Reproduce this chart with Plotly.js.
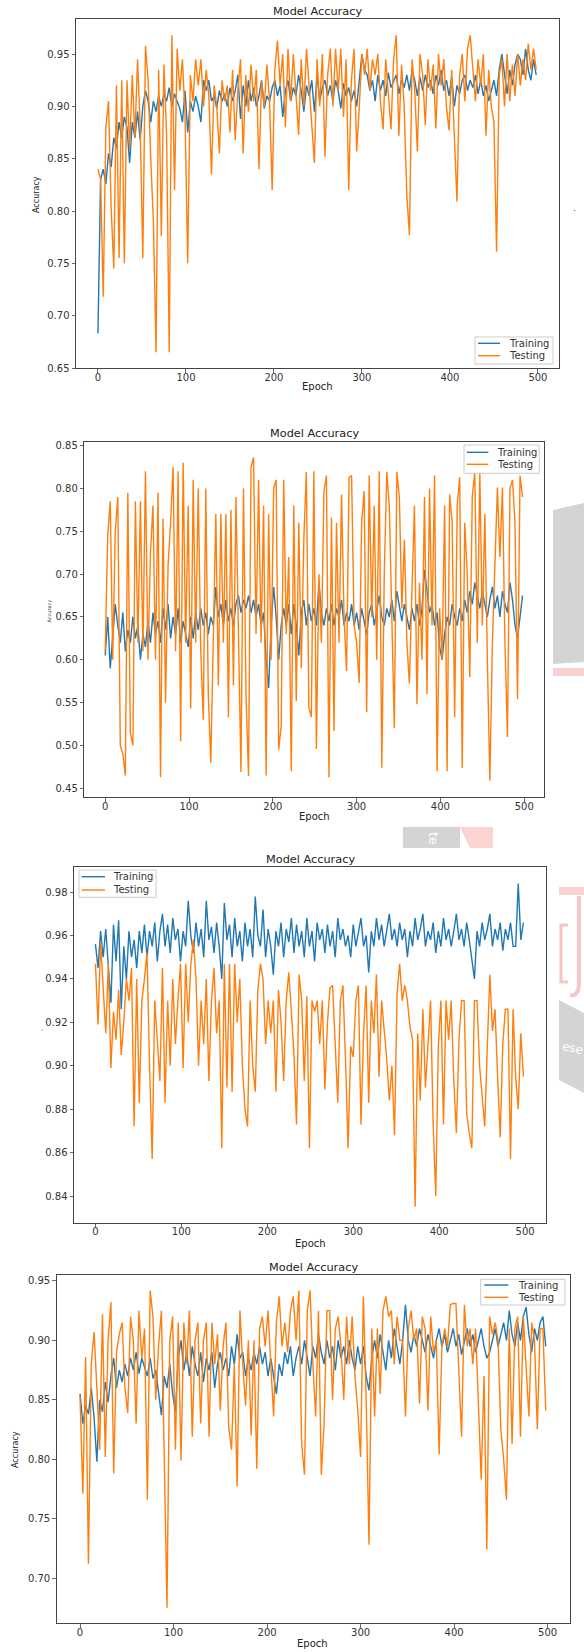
<!DOCTYPE html>
<html>
<head>
<meta charset="utf-8">
<script src="https://cdn.plot.ly/plotly-3.0.1.min.js"></script>
<style>html,body{margin:0;padding:0;background:#fff;}#chart{width:584px;height:1652px;}</style>
</head>
<body>
<div id="chart"></div>
<script>
// Epochs (every 3rd epoch)
const epochs = [
0,3,6,9,12,15,18,21,24,27,
30,33,36,39,42,45,48,51,54,57,
60,63,66,69,72,75,78,81,84,87,
90,93,96,99,102,105,108,111,114,117,
120,123,126,129,132,135,138,141,144,147,
150,153,156,159,162,165,168,171,174,177,
180,183,186,189,192,195,198,201,204,207,
210,213,216,219,222,225,228,231,234,237,
240,243,246,249,252,255,258,261,264,267,
270,273,276,279,282,285,288,291,294,297,
300,303,306,309,312,315,318,321,324,327,
330,333,336,339,342,345,348,351,354,357,
360,363,366,369,372,375,378,381,384,387,
390,393,396,399,402,405,408,411,414,417,
420,423,426,429,432,435,438,441,444,447,
450,453,456,459,462,465,468,471,474,477,
480,483,486,489,492,495,498];

// Panel 1
const p1Train = [
0.683,0.830,0.840,0.826,0.855,0.842,0.870,0.860,0.885,0.870,
0.890,0.880,0.846,0.885,0.870,0.895,0.868,0.900,0.915,0.905,
0.885,0.905,0.895,0.910,0.900,0.912,0.905,0.918,0.900,0.912,
0.905,0.898,0.885,0.915,0.875,0.905,0.895,0.910,0.900,0.885,
0.925,0.915,0.925,0.905,0.910,0.898,0.915,0.905,0.912,0.900,
0.918,0.905,0.915,0.930,0.888,0.920,0.900,0.925,0.905,0.918,
0.900,0.910,0.925,0.898,0.910,0.905,0.918,0.925,0.910,0.920,
0.890,0.915,0.925,0.905,0.918,0.910,0.930,0.915,0.895,0.920,
0.910,0.925,0.895,0.930,0.905,0.918,0.925,0.910,0.920,0.905,
0.925,0.915,0.898,0.922,0.910,0.918,0.905,0.915,0.900,0.925,
0.950,0.935,0.930,0.915,0.925,0.905,0.930,0.915,0.925,0.910,
0.932,0.918,0.925,0.930,0.912,0.925,0.918,0.930,0.915,0.935,
0.925,0.910,0.928,0.915,0.930,0.918,0.925,0.912,0.930,0.920,
0.935,0.915,0.925,0.910,0.928,0.900,0.920,0.912,0.925,0.930,
0.915,0.925,0.918,0.930,0.912,0.925,0.910,0.920,0.905,0.915,
0.925,0.910,0.935,0.950,0.928,0.912,0.935,0.920,0.940,0.950,
0.945,0.930,0.955,0.935,0.925,0.945,0.930];
const p1Test = [
0.840,0.830,0.718,0.880,0.905,0.803,0.745,0.920,0.755,0.925,
0.750,0.925,0.860,0.930,0.870,0.945,0.880,0.755,0.958,0.925,
0.850,0.790,0.665,0.935,0.776,0.940,0.873,0.665,0.968,0.820,
0.955,0.915,0.945,0.890,0.750,0.930,0.905,0.945,0.920,0.945,
0.900,0.935,0.910,0.835,0.920,0.900,0.855,0.925,0.905,0.920,
0.875,0.935,0.868,0.915,0.945,0.855,0.930,0.895,0.940,0.905,
0.935,0.840,0.925,0.900,0.940,0.905,0.820,0.935,0.963,0.920,
0.950,0.880,0.955,0.905,0.950,0.912,0.873,0.945,0.900,0.955,
0.920,0.885,0.846,0.945,0.900,0.950,0.852,0.930,0.955,0.900,
0.955,0.915,0.955,0.890,0.945,0.820,0.925,0.955,0.857,0.900,
0.950,0.930,0.955,0.915,0.945,0.930,0.950,0.905,0.878,0.945,
0.915,0.878,0.945,0.968,0.872,0.940,0.900,0.815,0.777,0.945,
0.915,0.857,0.950,0.930,0.882,0.945,0.915,0.940,0.879,0.950,
0.920,0.945,0.900,0.877,0.935,0.868,0.809,0.930,0.950,0.905,
0.955,0.968,0.940,0.905,0.945,0.920,0.950,0.872,0.935,0.900,
0.885,0.761,0.930,0.945,0.900,0.950,0.905,0.940,0.910,0.950,
0.920,0.945,0.925,0.960,0.935,0.955,0.935];

// Panel 2
const p2Train = [
0.605,0.650,0.590,0.630,0.665,0.640,0.620,0.655,0.610,0.635,
0.620,0.650,0.625,0.640,0.600,0.630,0.615,0.645,0.620,0.655,
0.630,0.645,0.620,0.660,0.635,0.665,0.625,0.650,0.630,0.660,
0.620,0.645,0.630,0.615,0.650,0.625,0.655,0.635,0.660,0.640,
0.655,0.630,0.650,0.640,0.685,0.650,0.665,0.640,0.670,0.645,
0.660,0.640,0.665,0.675,0.655,0.670,0.660,0.675,0.655,0.670,
0.650,0.665,0.640,0.655,0.600,0.567,0.640,0.685,0.650,0.600,
0.640,0.660,0.640,0.665,0.630,0.665,0.640,0.605,0.655,0.670,
0.640,0.665,0.645,0.660,0.640,0.690,0.655,0.640,0.660,0.645,
0.665,0.640,0.660,0.650,0.670,0.640,0.655,0.645,0.665,0.640,
0.655,0.635,0.660,0.645,0.630,0.655,0.665,0.640,0.660,0.675,
0.650,0.640,0.660,0.650,0.670,0.645,0.680,0.660,0.645,0.665,
0.650,0.635,0.660,0.645,0.665,0.640,0.660,0.705,0.680,0.655,
0.665,0.640,0.655,0.615,0.600,0.630,0.650,0.640,0.665,0.650,
0.640,0.660,0.645,0.670,0.655,0.680,0.665,0.690,0.675,0.660,
0.680,0.665,0.650,0.670,0.685,0.660,0.675,0.650,0.680,0.665,
0.655,0.690,0.670,0.640,0.625,0.650,0.675];
const p2Test = [
0.610,0.745,0.785,0.600,0.750,0.790,0.500,0.490,0.465,0.795,
0.515,0.500,0.785,0.620,0.785,0.610,0.820,0.600,0.725,0.780,
0.600,0.795,0.463,0.765,0.550,0.710,0.760,0.825,0.610,0.820,
0.505,0.830,0.620,0.780,0.543,0.810,0.620,0.800,0.610,0.530,
0.800,0.560,0.480,0.620,0.770,0.570,0.770,0.620,0.770,0.533,
0.775,0.570,0.790,0.630,0.469,0.800,0.560,0.464,0.825,0.836,
0.630,0.810,0.620,0.780,0.465,0.770,0.600,0.800,0.810,0.495,
0.523,0.810,0.630,0.720,0.470,0.780,0.552,0.760,0.590,0.740,
0.819,0.545,0.533,0.820,0.496,0.700,0.620,0.797,0.815,0.463,
0.766,0.517,0.760,0.620,0.793,0.650,0.587,0.813,0.815,0.640,
0.620,0.573,0.760,0.797,0.539,0.815,0.650,0.780,0.600,0.820,
0.474,0.700,0.819,0.780,0.640,0.520,0.819,0.790,0.660,0.740,
0.620,0.572,0.680,0.780,0.548,0.690,0.600,0.790,0.560,0.800,
0.640,0.815,0.470,0.660,0.600,0.780,0.470,0.793,0.760,0.533,
0.780,0.813,0.474,0.760,0.700,0.580,0.790,0.819,0.620,0.819,
0.640,0.770,0.600,0.459,0.620,0.700,0.801,0.720,0.801,0.620,
0.510,0.800,0.810,0.760,0.554,0.815,0.790];

// Panel 3
const p3Train = [
0.956,0.945,0.962,0.950,0.963,0.945,0.929,0.965,0.948,0.967,
0.926,0.955,0.940,0.962,0.950,0.958,0.945,0.962,0.952,0.965,
0.950,0.962,0.955,0.966,0.948,0.962,0.970,0.955,0.965,0.952,
0.968,0.958,0.963,0.948,0.962,0.955,0.976,0.960,0.952,0.966,
0.955,0.963,0.950,0.976,0.958,0.964,0.952,0.966,0.955,0.940,
0.975,0.958,0.965,0.950,0.968,0.955,0.962,0.948,0.966,0.955,
0.963,0.950,0.978,0.960,0.955,0.972,0.950,0.963,0.955,0.942,
0.962,0.955,0.966,0.950,0.963,0.957,0.968,0.952,0.965,0.955,
0.962,0.950,0.968,0.955,0.962,0.948,0.966,0.958,0.963,0.952,
0.965,0.955,0.962,0.950,0.968,0.958,0.963,0.955,0.960,0.950,
0.965,0.955,0.962,0.968,0.955,0.960,0.943,0.962,0.955,0.968,
0.958,0.965,0.955,0.962,0.970,0.958,0.963,0.955,0.966,0.958,
0.963,0.950,0.962,0.955,0.968,0.958,0.963,0.970,0.955,0.962,
0.958,0.966,0.952,0.962,0.955,0.968,0.958,0.963,0.955,0.962,
0.970,0.958,0.963,0.955,0.966,0.958,0.950,0.940,0.962,0.955,
0.966,0.958,0.963,0.970,0.955,0.963,0.958,0.966,0.953,0.963,
0.958,0.966,0.955,0.955,0.984,0.958,0.966];
const p3Test = [
0.947,0.919,0.957,0.937,0.915,0.947,0.899,0.925,0.912,0.935,
0.905,0.920,0.940,0.930,0.945,0.872,0.940,0.883,0.930,0.940,
0.952,0.900,0.857,0.930,0.910,0.893,0.945,0.883,0.930,0.900,
0.940,0.910,0.930,0.947,0.899,0.947,0.920,0.947,0.958,0.940,
0.900,0.930,0.910,0.940,0.893,0.930,0.945,0.915,0.930,0.862,
0.947,0.890,0.947,0.888,0.947,0.920,0.940,0.900,0.880,0.872,
0.930,0.900,0.888,0.935,0.947,0.940,0.910,0.930,0.915,0.930,
0.888,0.935,0.920,0.893,0.930,0.943,0.925,0.905,0.873,0.942,
0.930,0.893,0.932,0.862,0.930,0.925,0.930,0.910,0.930,0.889,
0.920,0.936,0.937,0.906,0.883,0.930,0.937,0.903,0.862,0.909,
0.904,0.930,0.937,0.873,0.915,0.937,0.883,0.930,0.915,0.942,
0.895,0.930,0.918,0.903,0.884,0.900,0.868,0.933,0.947,0.930,
0.937,0.930,0.918,0.912,0.835,0.915,0.884,0.926,0.890,0.910,
0.930,0.873,0.840,0.909,0.930,0.873,0.930,0.912,0.930,0.893,
0.869,0.912,0.930,0.930,0.878,0.869,0.862,0.930,0.930,0.900,
0.885,0.872,0.909,0.942,0.916,0.926,0.895,0.867,0.910,0.926,
0.926,0.857,0.926,0.895,0.880,0.915,0.895];

// Panel 4
const p4Train = [
0.855,0.830,0.845,0.838,0.860,0.835,0.798,0.850,0.840,0.865,
0.848,0.870,0.885,0.860,0.875,0.865,0.880,0.870,0.885,0.875,
0.890,0.872,0.885,0.878,0.870,0.885,0.868,0.875,0.855,0.837,
0.870,0.860,0.880,0.855,0.840,0.885,0.900,0.875,0.890,0.870,
0.895,0.880,0.870,0.890,0.865,0.885,0.875,0.890,0.860,0.880,
0.890,0.875,0.885,0.870,0.895,0.880,0.905,0.885,0.890,0.870,
0.885,0.875,0.890,0.880,0.895,0.880,0.890,0.870,0.885,0.870,
0.855,0.880,0.870,0.890,0.880,0.895,0.870,0.885,0.895,0.880,
0.900,0.885,0.870,0.895,0.885,0.905,0.890,0.880,0.900,0.885,
0.895,0.875,0.900,0.885,0.895,0.880,0.900,0.885,0.875,0.895,
0.880,0.895,0.870,0.858,0.885,0.900,0.885,0.905,0.890,0.875,
0.900,0.885,0.910,0.895,0.880,0.900,0.930,0.900,0.890,0.905,
0.895,0.910,0.900,0.890,0.905,0.895,0.885,0.900,0.910,0.895,
0.905,0.890,0.900,0.910,0.895,0.905,0.888,0.900,0.910,0.895,
0.905,0.890,0.900,0.910,0.895,0.885,0.890,0.900,0.910,0.895,
0.905,0.915,0.900,0.925,0.905,0.895,0.915,0.900,0.920,0.928,
0.905,0.890,0.910,0.900,0.915,0.920,0.895];
const p4Test = [
0.853,0.771,0.886,0.712,0.880,0.907,0.860,0.808,0.922,0.802,
0.900,0.932,0.788,0.890,0.905,0.915,0.860,0.839,0.920,0.900,
0.830,0.925,0.885,0.910,0.766,0.942,0.920,0.850,0.895,0.925,
0.805,0.675,0.900,0.920,0.808,0.915,0.799,0.915,0.880,0.925,
0.819,0.900,0.915,0.830,0.900,0.915,0.819,0.915,0.880,0.905,
0.841,0.895,0.915,0.827,0.808,0.880,0.777,0.925,0.880,0.845,
0.900,0.820,0.900,0.792,0.910,0.920,0.895,0.925,0.880,0.836,
0.915,0.937,0.895,0.915,0.890,0.925,0.937,0.900,0.942,0.813,
0.787,0.925,0.942,0.880,0.836,0.925,0.787,0.830,0.925,0.925,
0.850,0.910,0.920,0.895,0.850,0.920,0.880,0.920,0.870,0.841,
0.802,0.937,0.850,0.728,0.910,0.836,0.910,0.855,0.925,0.937,
0.920,0.925,0.880,0.920,0.900,0.900,0.836,0.910,0.925,0.900,
0.910,0.847,0.920,0.910,0.841,0.920,0.890,0.900,0.804,0.895,
0.910,0.895,0.930,0.931,0.931,0.880,0.819,0.930,0.895,0.910,
0.880,0.910,0.850,0.783,0.870,0.724,0.920,0.905,0.915,0.900,
0.825,0.800,0.766,0.910,0.813,0.910,0.920,0.819,0.920,0.880,
0.836,0.915,0.900,0.825,0.910,0.910,0.841];

const seriesNames = ['Training', 'Testing'];
const xTicks = [0, 100, 200, 300, 400, 500];
const yTicks1 = [0.65, 0.70, 0.75, 0.80, 0.85, 0.90, 0.95];
const yTicks2 = [0.45, 0.50, 0.55, 0.60, 0.65, 0.70, 0.75, 0.80, 0.85];
const yTicks3 = [0.84, 0.86, 0.88, 0.90, 0.92, 0.94, 0.96, 0.98];
const yTicks4 = [0.70, 0.75, 0.80, 0.85, 0.90, 0.95];
const chartTitle = 'Model Accuracy';

const BLUE = '#1f77b4', ORANGE = '#ff7f0e';
const COLORS = [BLUE, ORANGE];
const FONT = 'DejaVu Sans, Verdana, sans-serif';
const LW = 1.4;

function tr(y, name, color, k) {
  const sfx = k === 1 ? '' : String(k);
  return {
    x: epochs, y: y, name: name, type: 'scatter', mode: 'lines',
    line: {color: color, width: LW},
    xaxis: 'x' + sfx, yaxis: 'y' + sfx,
    showlegend: false, hoverinfo: 'skip'
  };
}

const data = [
  tr(p1Train, seriesNames[0], BLUE, 1), tr(p1Test, seriesNames[1], ORANGE, 1),
  tr(p2Train, seriesNames[0], BLUE, 2), tr(p2Test, seriesNames[1], ORANGE, 2),
  tr(p3Train, seriesNames[0], BLUE, 3), tr(p3Test, seriesNames[1], ORANGE, 3),
  tr(p4Train, seriesNames[0], BLUE, 4), tr(p4Test, seriesNames[1], ORANGE, 4)
];

const W = 584, H = 1652;
const px = v => v / W;
const py = v => 1 - v / H;

function xa(dom, anchor) {
  return {
    domain: dom, anchor: anchor, range: [-24.95, 523.95],
    tickvals: xTicks, ticktext: xTicks.map(String),
    showline: true, mirror: true, linecolor: '#444', linewidth: 1,
    ticks: 'outside', ticklen: 3.5, tickwidth: 0.8, tickcolor: '#444',
    ticklabelstandoff: -4,
    showgrid: false, zeroline: false,
    tickfont: {family: FONT, size: 10, color: '#333'}
  };
}
function ya(dom, anchor, range, ticks) {
  return {
    domain: dom, anchor: anchor, range: range,
    tickvals: ticks, ticktext: ticks.map(v => v.toFixed(2)),
    showline: true, mirror: true, linecolor: '#444', linewidth: 1,
    ticks: 'outside', ticklen: 3.5, tickwidth: 0.8, tickcolor: '#444',
    showgrid: false, zeroline: false,
    tickfont: {family: FONT, size: 10, color: '#333'}
  };
}
function ann(text, x, y, size, extra) {
  return Object.assign({
    text: text, x: x, y: y, xref: 'paper', yref: 'paper',
    showarrow: false, xanchor: 'center', yanchor: 'middle',
    font: {family: FONT, size: size, color: '#222'}
  }, extra || {});
}

const legendBoxes = [
  {x0: 475, x1: 553, y0: 337, y1: 364, l0: 478, l1: 500, r1: 343.3, r2: 355.7, tx: 507},
  {x0: 464, x1: 539.3, y0: 445, y1: 473.3, l0: 466.7, l1: 488.3, r1: 452.3, r2: 464.3, tx: 495},
  {x0: 79, x1: 156, y0: 870, y1: 897.3, l0: 81.7, l1: 105, r1: 876.7, r2: 890, tx: 111},
  {x0: 480.7, x1: 565, y0: 1279.3, y1: 1305, l0: 484.3, l1: 508.3, r1: 1285, r2: 1297.3, tx: 516}
];
const legendShapes = [];
const legendAnns = [];
legendBoxes.forEach(b => {
  legendShapes.push({type: 'rect', xref: 'paper', yref: 'paper', layer: 'above',
    x0: px(b.x0), x1: px(b.x1), y0: py(b.y1), y1: py(b.y0),
    fillcolor: 'rgba(255,255,255,0.85)', line: {color: '#cccccc', width: 1}});
  [b.r1, b.r2].forEach((ry, i) => {
    legendShapes.push({type: 'line', xref: 'paper', yref: 'paper', layer: 'above',
      x0: px(b.l0), x1: px(b.l1), y0: py(ry), y1: py(ry),
      line: {color: COLORS[i], width: LW}});
    legendAnns.push(ann(seriesNames[i], px(b.tx), py(ry), 10,
      {xanchor: 'left', font: {family: FONT, size: 10, color: '#333'}}));
  });
});

const layout = {
  width: W, height: H,
  margin: {l: 0, r: 0, t: 0, b: 0, pad: 0},
  paper_bgcolor: '#ffffff', plot_bgcolor: '#ffffff',
  showlegend: false,
  xaxis:  xa([px(76), px(559)], 'y'),
  yaxis:  ya([py(368), py(19)], 'x', [0.650, 0.9835], yTicks1),
  xaxis2: xa([px(84.3), px(544.3)], 'y2'),
  yaxis2: ya([py(797.3), py(441.7)], 'x2', [0.4395, 0.8545], yTicks2),
  xaxis3: xa([px(74), px(545.7)], 'y3'),
  yaxis3: ya([py(1222.7), py(866.7)], 'x3', [0.8277, 0.9917], yTicks3),
  xaxis4: xa([px(56.7), px(570)], 'y4'),
  yaxis4: ya([py(1623.3), py(1275)], 'x4', [0.6620, 0.9550], yTicks4),
  annotations: [
    ann(chartTitle, px(317), py(12), 11.3),
    ann(chartTitle, px(314), py(434), 11.3),
    ann(chartTitle, px(310), py(859), 11.3),
    ann(chartTitle, px(313), py(1267), 11.3),
    ann('Epoch', px(317), py(387), 10),
    ann('Epoch', px(314), py(816), 10),
    ann('Epoch', px(310), py(1243), 10),
    ann('Epoch', px(312), py(1643), 10),
    ann('Accuracy', px(37), py(195), 8, {textangle: -90}),
    ann('Accuracy', px(48.5), py(611), 5, {textangle: -90, font: {family: FONT, size: 5, color: '#333'}}),
    ann('Accuracy', px(15), py(1450), 8, {textangle: -90}),
    ann("'", px(42), py(1032), 7, {font: {family: FONT, size: 7, color: '#666'}}),
    ann('.', px(574), py(208), 9, {font: {family: FONT, size: 9, color: '#444'}}),
    ann('te', px(433), py(838), 13, {textangle: 90, font: {family: FONT, size: 13, color: '#ffffff'}}),
    ann('ese', px(572), py(1048), 12, {textangle: 12, font: {family: FONT, size: 12, color: '#ffffff'}})
  ].concat(legendAnns),
  shapes: [
    {type: 'path', xref: 'paper', yref: 'paper', layer: 'below',
     path: `M ${px(553)},${py(510)} L ${px(584)},${py(503)} L ${px(584)},${py(662)} L ${px(553)},${py(664)} Z`,
     fillcolor: '#d4d4d4', line: {width: 0}},
    {type: 'rect', xref: 'paper', yref: 'paper', layer: 'below',
     x0: px(553), x1: px(584), y0: py(676), y1: py(668),
     fillcolor: '#fad0d0', line: {width: 0}},
    {type: 'rect', xref: 'paper', yref: 'paper', layer: 'below',
     x0: px(403), x1: px(460), y0: py(848), y1: py(827),
     fillcolor: '#d4d4d4', line: {width: 0}},
    {type: 'path', xref: 'paper', yref: 'paper', layer: 'below',
     path: `M ${px(460)},${py(827)} L ${px(493)},${py(827)} L ${px(493)},${py(848)} L ${px(470)},${py(848)} Z`,
     fillcolor: '#fbd3d3', line: {width: 0}},
    {type: 'rect', xref: 'paper', yref: 'paper', layer: 'below',
     x0: px(559), x1: px(584), y0: py(895), y1: py(887),
     fillcolor: '#fad0d0', line: {width: 0}},
    {type: 'path', xref: 'paper', yref: 'paper', layer: 'below',
     path: `M ${px(568)},${py(925)} L ${px(561)},${py(925)} L ${px(561)},${py(982)} L ${px(568)},${py(982)}`,
     line: {color: '#f8c4c4', width: 3}},
    {type: 'path', xref: 'paper', yref: 'paper', layer: 'below',
     path: `M ${px(579)},${py(896)} L ${px(579)},${py(982)} Q ${px(579)},${py(997)} ${px(570)},${py(995)}`,
     line: {color: '#f8c4c4', width: 4}},
    {type: 'path', xref: 'paper', yref: 'paper', layer: 'below',
     path: `M ${px(559)},${py(1000)} L ${px(584)},${py(1013)} L ${px(584)},${py(1093)} L ${px(559)},${py(1080)} Z`,
     fillcolor: '#d4d4d4', line: {width: 0}}
  ].concat(legendShapes)
};

Plotly.newPlot('chart', data, layout, {displayModeBar: false, staticPlot: true});
</script>
</body>
</html>
